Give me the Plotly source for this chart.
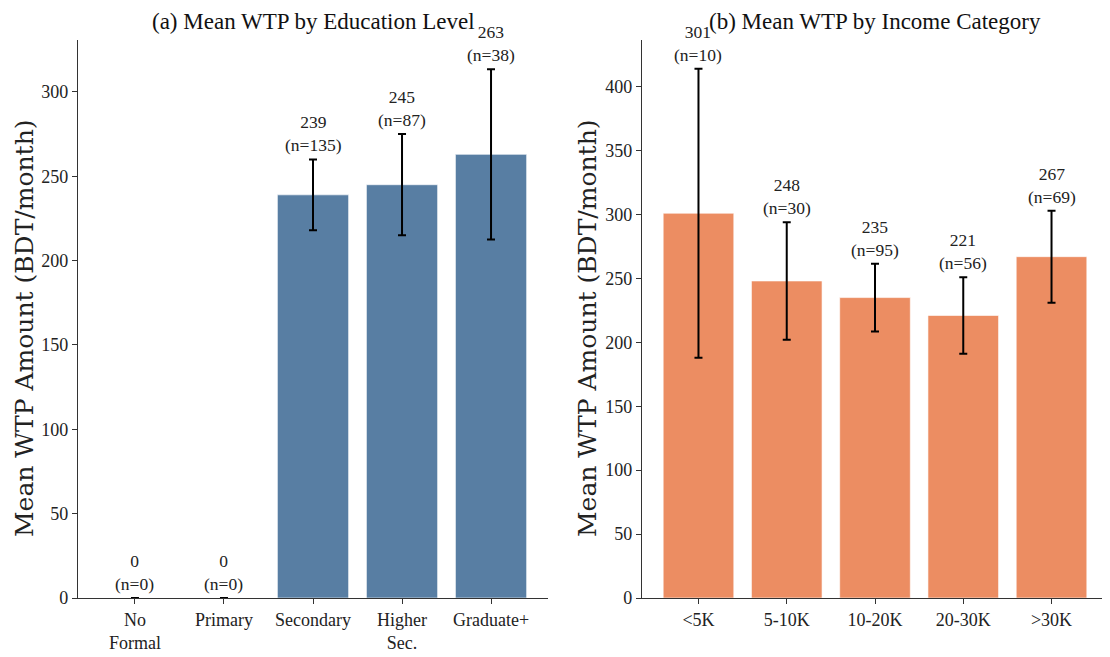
import plotly.graph_objects as go

edu_cats = ["No<br>Formal", "Primary", "Secondary", "Higher<br>Sec.", "Graduate+"]
edu_means = [0, 0, 239, 245, 263]
edu_err = [0, 0, 21, 30, 50.5]
edu_n = [0, 0, 135, 87, 38]

inc_cats = ["<5K", "5-10K", "10-20K", "20-30K", ">30K"]
inc_means = [301, 248, 235, 221, 267]
inc_err = [113, 46, 26.5, 30, 36]
inc_n = [10, 30, 95, 56, 69]

COND = "Liberation Serif, DejaVu Serif Condensed, serif"
SERIF = "DejaVu Serif, serif"
BLUE = "rgb(88,126,163)"
ORANGE = "rgb(236,141,98)"

W, H = 1102, 649  # page body margin of 8px offsets the figure

def px(x):
    return (x - 8) / W

def py(y):
    return 1 - (y - 8) / H

fig = go.Figure()

def add_panel(cats, means, errs, ns, color, xa, ya):
    xs = list(range(len(cats)))
    fig.add_trace(go.Bar(
        x=xs, y=means, width=0.8, xaxis=xa, yaxis=ya,
        marker=dict(color=color, line=dict(color="rgba(255,255,255,0.6)", width=1)),
        error_y=dict(type="data", array=errs, visible=True, color="black", thickness=2, width=4),
        showlegend=False, hoverinfo="skip",
    ))
    for x, m, e, n in zip(xs, means, errs, ns):
        fig.add_annotation(
            x=x, y=m + e, xref=xa, yref=ya, text=f"{m:.0f}<br>(n={n})",
            showarrow=False, yanchor="bottom", xanchor="center", yshift=2,
            font=dict(family=COND, size=17.5, color="#222"),
        )

add_panel(edu_cats, edu_means, edu_err, edu_n, BLUE, "x", "y")
add_panel(inc_cats, inc_means, inc_err, inc_n, ORANGE, "x2", "y2")

axis_common = dict(
    showgrid=False, zeroline=False, showline=True, linecolor="#333", linewidth=1.3,
    ticks="outside", ticklen=5, tickcolor="#333", tickwidth=1.2, automargin=False,
    tickfont=dict(family=COND, size=18, color="#222"),
)

fig.update_layout(
    width=W, height=H,
    margin=dict(l=0, r=0, t=0, b=0),
    plot_bgcolor="white", paper_bgcolor="white",
    bargap=0.2,
    xaxis=dict(domain=[px(78), px(548)], range=[-0.64, 4.64],
               tickvals=list(range(5)), ticktext=edu_cats, anchor="y", **axis_common),
    yaxis=dict(domain=[py(598), py(40)], range=[0, 330.8], tickvals=[0, 50, 100, 150, 200, 250, 300],
               anchor="x", **axis_common),
    xaxis2=dict(domain=[px(642), px(1108)], range=[-0.64, 4.64],
                tickvals=list(range(5)), ticktext=inc_cats, anchor="y2", **axis_common),
    yaxis2=dict(domain=[py(598), py(40)], range=[0, 436.5], tickvals=[0, 50, 100, 150, 200, 250, 300, 350, 400],
                anchor="x2", **axis_common),
)

for xc, title in [(313, "(a) Mean WTP by Education Level"), (875, "(b) Mean WTP by Income Category")]:
    fig.add_annotation(x=px(xc), y=py(22), xref="paper", yref="paper", text=title,
                       showarrow=False, xanchor="center", yanchor="middle",
                       font=dict(family=COND, size=23, color="#111"))

for xc in [24, 587]:
    fig.add_annotation(x=px(xc), y=py(328), xref="paper", yref="paper",
                       text="Mean WTP Amount (BDT/month)", textangle=-90,
                       showarrow=False, xanchor="center", yanchor="middle",
                       font=dict(family=SERIF, size=25, color="#222"))

fig.write_html("out.html")
